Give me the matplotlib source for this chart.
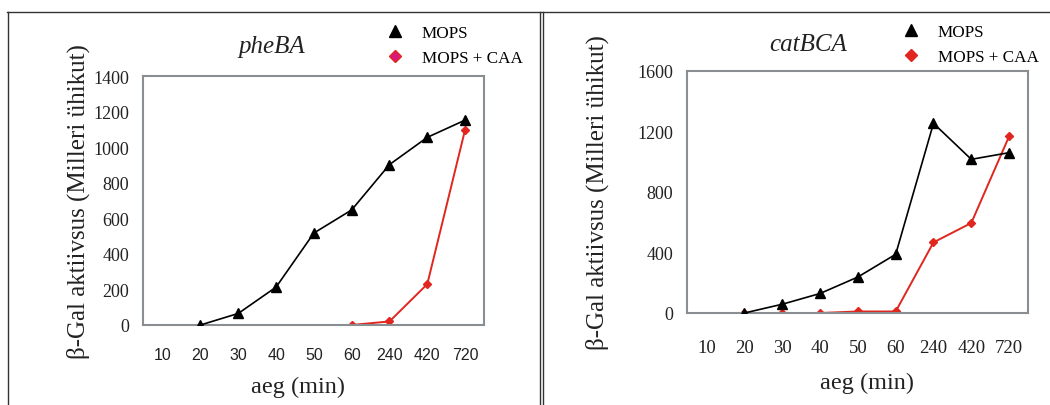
import numpy as np
import matplotlib
matplotlib.use('Agg')
import matplotlib.pyplot as plt
from matplotlib.lines import Line2D

# Data
time_labels = ['10', '20', '30', '40', '50', '60', '240', '420', '720']

phe_mops_idx = [1, 2, 3, 4, 5, 6, 7, 8]
phe_mops = [0, 65, 213, 517, 647, 902, 1055, 1152]
phe_caa_idx = [5, 6, 7, 8]
phe_caa = [0, 20, 230, 1098]

cat_mops_idx = [1, 2, 3, 4, 5, 6, 7, 8]
cat_mops = [0, 58, 129, 238, 388, 1254, 1016, 1060]
cat_caa_idx = [1, 2, 3, 4, 5, 6, 7, 8]
cat_caa = [0, 0, 0, 10, 10, 467, 595, 1168]

W, H = 1050, 406
fig = plt.figure(figsize=(W / 100, H / 100), dpi=100)

SERIF = 'Liberation Serif'
SANS = 'Liberation Sans'
grey = '#8a8d91'
red = '#e0261f'


def px_ax(x0, x1, ytop, ybot):
    return [x0 / W, 1 - ybot / H, (x1 - x0) / W, (ybot - ytop) / H]


def panel(rect, xs_m, ys_m, xs_c, ys_c, ymax, ystep, xtick_font, xtick_size, xpad, title,
          title_xy, ylab_x, xlab_xy, leg_xy, leg_diamond):
    ax = fig.add_axes(rect)
    ax.plot(xs_m, ys_m, color='black', lw=1.2, marker='^', ms=7.5, zorder=3)
    ax.plot(xs_c, ys_c, color=red, lw=1.4, marker='D', ms=4.5, zorder=2)
    ax.set_xlim(-0.52, 8.5)
    ax.set_ylim(0, ymax)
    ax.set_yticks(np.arange(0, ymax + 1, ystep))
    ax.set_xticks(range(len(time_labels)))
    ax.set_xticklabels(time_labels, family=xtick_font, fontsize=xtick_size)
    for lab in ax.get_yticklabels():
        lab.set_family(SERIF)
        lab.set_fontsize(13)
    ax.tick_params(axis='y', length=0, pad=10, colors='#222222')
    ax.tick_params(axis='x', length=0, pad=xpad, colors='#222222')
    for s in ax.spines.values():
        s.set_color(grey)
        s.set_linewidth(1.5)
    fig.text(title_xy[0] / W, 1 - title_xy[1] / H, title, family=SERIF, style='italic',
             fontsize=18, ha='center', va='center', color='#222222')
    fig.text(ylab_x / W, rect[1] + rect[3] / 2, 'β-Gal aktiivsus (Milleri ühikut)',
             family=SERIF, fontsize=18, rotation=90, ha='center', va='center', color='#222222')
    fig.text(xlab_xy[0] / W, 1 - xlab_xy[1] / H, 'aeg (min)', family=SERIF, fontsize=17.5,
             ha='center', va='center', color='#222222')
    handles = [Line2D([], [], ls='none', marker='^', ms=8, color='black'),
               Line2D([], [], ls='none', marker='D', ms=6, mfc=leg_diamond, mec=red)]
    fig.legend(handles, ['MOPS', 'MOPS + CAA'], loc='upper left',
               bbox_to_anchor=(leg_xy[0] / W, 1 - leg_xy[1] / H), frameon=False,
               prop={'family': SERIF, 'size': 12.3}, borderpad=0, borderaxespad=0,
               handlelength=1.2, handletextpad=0.95, labelspacing=0.55)
    return ax


panel(px_ax(143, 484, 77, 326), phe_mops_idx, phe_mops, phe_caa_idx, phe_caa,
      1400, 200, SANS, 11.5, 16, 'pheBA', (272, 47), 78, (298, 387), (385, 26), '#d81b7b')
panel(px_ax(687, 1028, 72, 314), cat_mops_idx, cat_mops, cat_caa_idx, cat_caa,
      1600, 400, SERIF, 13.5, 19, 'catBCA', (808, 45), 597, (867, 383), (901, 25), red)

# panel frames
for x in [7.5, 539.5, 542.5]:
    fig.add_artist(Line2D([x / W, x / W], [0, 1 - 13 / H], color='#333333', lw=1.0))
fig.add_artist(Line2D([7 / W, 1], [1 - 13 / H, 1 - 13 / H], color='#333333', lw=1.0))

fig.savefig('out.png', dpi=100)
